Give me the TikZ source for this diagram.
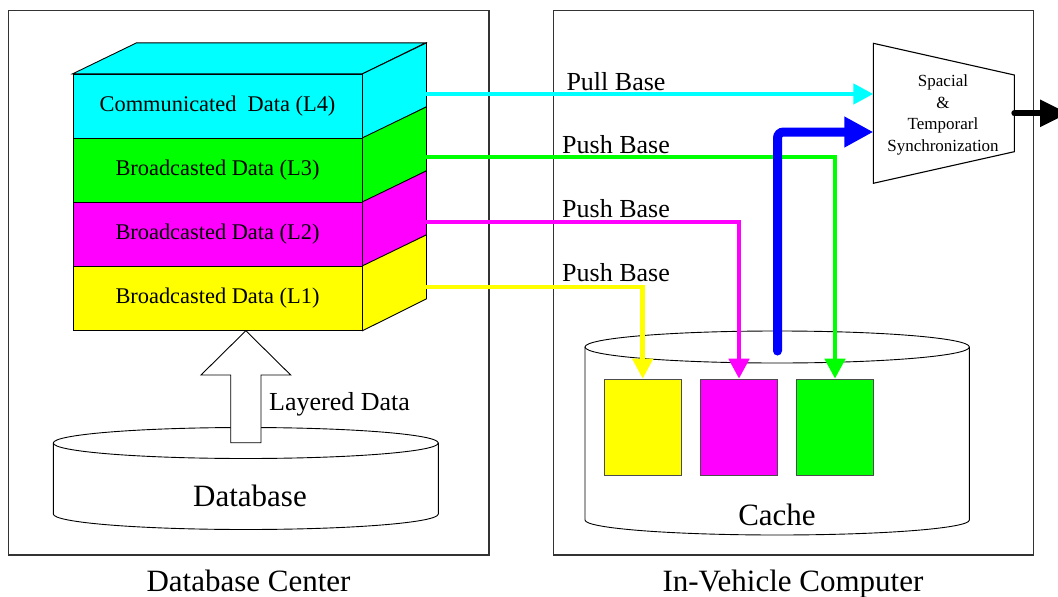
\documentclass[tikz,border=0pt]{standalone}
\usepackage{fontspec}
\setmainfont{Liberation Serif}
\usetikzlibrary{arrows.meta,calc}
\definecolor{cCyan}{HTML}{00FFFF}
\definecolor{cGreen}{HTML}{00FF00}
\definecolor{cMagenta}{HTML}{FF00FF}
\definecolor{cYellow}{HTML}{FFFF00}
\definecolor{cBlue}{HTML}{0000FF}
\newcommand{\fs}[1]{\fontsize{#1}{#1}\selectfont}
\tikzset{
  frame/.style={draw=black!80, line width=1.2pt},
  layer/.style={draw=black, line width=0.9pt, minimum width=289pt, minimum height=64pt,
    inner sep=0pt, font=\fs{22.4}},
  side/.style={draw=black, line width=0.9pt},
  flow/.style={line width=4.5pt, -{Triangle[length=20pt,width=20pt]}},
  slot/.style={draw=black!70, line width=1pt, minimum width=77pt, minimum height=96pt, inner sep=0pt},
  lbl/.style={font=\fs{26}, anchor=base, inner sep=0pt},
  bigtext/.style={font=\fs{31}, anchor=base, inner sep=0pt},
}
\begin{document}
\begin{tikzpicture}[x=1pt,y=-1pt]
\useasboundingbox (0,0) rectangle (1058,597);
\clip (0,0) rectangle (1058,597);

% outer frames
\draw[frame] (8.3,10.7) rectangle (489,555);
\draw[frame] (553.3,10.7) rectangle (1033.3,555);
\node[bigtext] (capL) at (248.5,591) {Database Center};
\node[bigtext] (capR) at (793,591) {In-Vehicle Computer};

% database cylinder
\draw[fill=white, line width=0.9pt] (53.3,443) -- (53.3,514)
  arc[start angle=180, end angle=360, x radius=192.5pt, y radius=15.5pt] -- (438.3,443);
\draw[line width=0.9pt] (245.8,443) ellipse [x radius=192.5pt, y radius=15.5pt];
\node[bigtext] (db) at (250,506) {Database};

% hollow block arrow
\draw[fill=white, line width=0.9pt] (230.7,442.7) -- (230.7,375) -- (201,375) -- (245.85,330.7)
  -- (290.7,375) -- (261,375) -- (261,442.7) -- cycle;
\node[lbl, anchor=base west] (ld) at (269,410) {Layered Data};

% layered stack: front faces
\node[layer, fill=cCyan]    (L4) at (217.5,106.3) {Communicated\ \ Data (L4)};
\node[layer, fill=cGreen]   (L3) at (217.5,170.3) {Broadcasted Data (L3)};
\node[layer, fill=cMagenta] (L2) at (217.5,234.3) {Broadcasted Data (L2)};
\node[layer, fill=cYellow]  (L1) at (217.5,298.3) {Broadcasted Data (L1)};
% top and side faces
\draw[side, fill=cCyan] (L4.north west) -- ++(64,-31) -- ++(289,0) -- (L4.north east) -- cycle;
\foreach \n/\c in {L4/cCyan, L3/cGreen, L2/cMagenta, L1/cYellow}
  \draw[side, fill=\c] (\n.north east) -- ++(64,-31) -- ++(0,64) -- (\n.south east) -- cycle;

% flow start points on the stack's side faces
\coordinate (s4) at (426,94);
\coordinate (s3) at (426,157);
\coordinate (s2) at (426,222);
\coordinate (s1) at (426,287);

% cache cylinder
\draw[fill=white, line width=0.9pt] (585,347) -- (585,520)
  arc[start angle=180, end angle=360, x radius=192.2pt, y radius=15pt] -- (969.3,347);
\draw[line width=0.9pt] (777.2,347) ellipse [x radius=192.2pt, y radius=16pt];
\node[bigtext] (cache) at (777,525) {Cache};
\node[slot, fill=cYellow]  (cy) at (642.7,427.2) {};
\node[slot, fill=cMagenta] (cm) at (739,427.2) {};
\node[slot, fill=cGreen]   (cg) at (835,427.2) {};
\coordinate (bstart) at (777.5,351);

% synchronization unit
\draw[line width=1.1pt] (873.3,43.3) -- (1014.3,75) -- (1014.3,151.7) -- (873.3,183.3) -- cycle;
\node[align=center, font={\fontsize{17}{21.7}\selectfont}, inner sep=0pt] (sync) at (943,115)
  {Spacial\\ \&\\ Temporarl\\ Synchronization};
\coordinate (inPull) at (873.3,94);
\coordinate (inCache) at (873.3,132);
\coordinate (outS) at (1014.3,113.3);
\coordinate (outE) at (1068,113.3);

% labels
\node[lbl] (pull)  at (616,90)  {Pull Base};
\node[lbl] (push3) at (616,153) {Push Base};
\node[lbl] (push2) at (616,217) {Push Base};
\node[lbl] (push1) at (616,281) {Push Base};

% flows
\draw[flow, cCyan] (s4) -- (inPull);
\draw[flow, cYellow] (s1) -| (cy.north);
\draw[flow, cMagenta] (s2) -| (cm.north);
\draw[flow, cGreen] (s3) -| (cg.north);
\draw[cBlue, line width=9pt, line cap=round, rounded corners=6pt,
  -{Triangle[length=29pt,width=29pt]}] (bstart) |- (inCache);
\draw[black, line width=6pt, line cap=round, -{Triangle[length=28pt,width=26pt]}] (outS) -- (outE);
\end{tikzpicture}
\end{document}
